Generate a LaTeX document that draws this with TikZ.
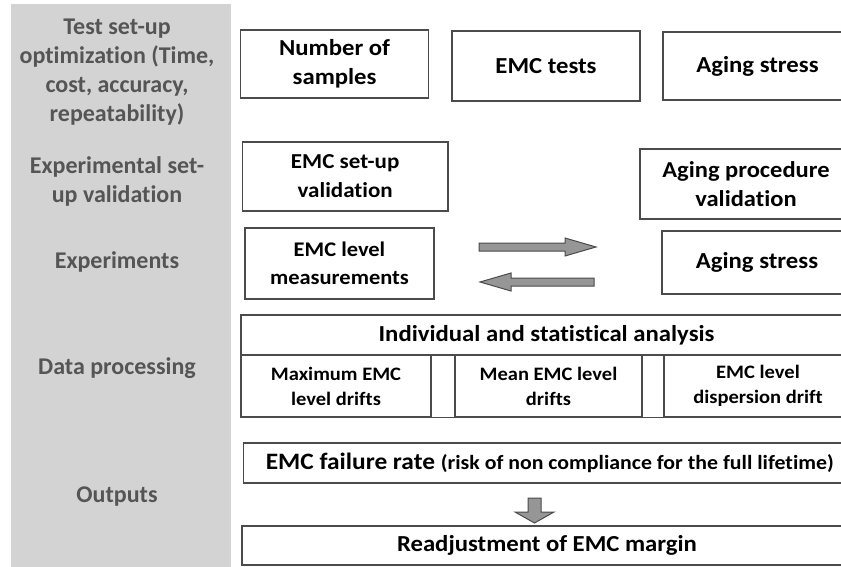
\documentclass[tikz,border=0pt]{standalone}
\usepackage{fontspec}
\setmainfont{Carlito}[Ligatures=NoCommon]
\newfontfamily\bx{Carlito}[FakeStretch=1.08, Ligatures=NoCommon]
\definecolor{panelgray}{RGB}{211,211,211}
\definecolor{sidetext}{RGB}{85,85,85}
\definecolor{edge}{RGB}{75,75,75}
\definecolor{arrowgray}{RGB}{150,150,150}
\newcommand{\fsz}[2]{\bx\bfseries\fontsize{#1}{#2}\selectfont}
\tikzset{
  side/.style={text=sidetext, font=\bfseries\fontsize{24}{29}\selectfont, align=center, inner sep=0pt},
  box/.style={draw=edge, line width=1.4pt, fill=white, align=center, inner sep=0pt, font=\fsz{22.9}{29}},
  subbox/.style={box, font=\fsz{19}{25}},
  widebox/.style={box, font=\fsz{22.9}{28}},
  edgeline/.style={draw=edge, line width=1.4pt},
  fatarrow/.style={draw=edge, line width=1pt, fill=arrowgray, line join=miter},
}
\begin{document}
\begin{tikzpicture}[x=1pt,y=-1pt]
\useasboundingbox (0,0) rectangle (841,567);
\clip (0,0) rectangle (841,567);
\fill[white] (0,0) rectangle (841,567);
\fill[panelgray] (11,4) rectangle (231,567);

% side labels
\node[side] (l1) at (117,72) {Test set-up\\optimization (Time,\\cost, accuracy,\\repeatability)};
\node[side] (l2) at (117,181) {Experimental set-\\up validation};
\node[side] (l3) at (117,262) {Experiments};
\node[side] (l4) at (117,368) {Data processing};
\node[side] (l5) at (117,497) {Outputs};

% row 1
\node[box, minimum width=188pt, minimum height=68pt] (ns) at (334.6,64) {Number of\\samples};
\node[box, minimum width=188pt, minimum height=70pt] (et) at (546,66) {EMC tests};
\node[box, minimum width=189pt, minimum height=68pt] (as1) at (757.5,66) {Aging stress};

% row 2
\node[box, font=\fsz{21.3}{29}, minimum width=205.5pt, minimum height=69pt] (esv) at (345.2,176.5) {EMC set-up\\validation};
\node[box, font=\fsz{22.7}{29}, minimum width=212pt, minimum height=70pt] (apv) at (746,184) {Aging procedure\\validation};

% row 3
\node[box, font=\fsz{20.8}{28}, minimum width=189pt, minimum height=71pt] (elm) at (339.5,263.5) {EMC level\\measurements};
\node[box, minimum width=190pt, minimum height=63pt] (as2) at (757,262.5) {Aging stress};
\draw[fatarrow] (479,243) -- (565,243) -- (565,238) -- (596,247) -- (565,256) -- (565,251) -- (479,251) -- cycle;
\draw[fatarrow] (594,278) -- (511,278) -- (511,273) -- (480,282) -- (511,291) -- (511,286) -- (594,286) -- cycle;

% data processing
\node[widebox, minimum width=611pt, minimum height=40pt] (ias) at (546.5,335) {Individual and statistical analysis};
\node[subbox, minimum width=190pt, minimum height=62pt] (mx) at (336,386) {Maximum EMC\\level drifts};
\node[subbox, minimum width=187pt, minimum height=62pt] (mn) at (548.5,386) {Mean EMC level\\drifts};
\node[subbox, minimum width=188pt, minimum height=62pt] (dsp) at (758,386) {EMC level\\dispersion drift};
\draw[edgeline] (mx.south east) -- (dsp.south west);

% outputs
\node[widebox, font=\fsz{23.5}{28}, minimum width=608.4pt, minimum height=40pt] (fr) at (547.8,463) {\hspace*{4pt}EMC failure rate {\fsz{20.2}{24}(risk of non compliance for the full lifetime)}};
\node[widebox, minimum width=610pt, minimum height=39pt] (ra) at (547,545.5) {Readjustment of EMC margin};
\draw[fatarrow] (528,498) -- (541,498) -- (541,512) -- (554,512) -- (534.5,523) -- (515,512) -- (528,512) -- cycle;
\end{tikzpicture}
\end{document}
